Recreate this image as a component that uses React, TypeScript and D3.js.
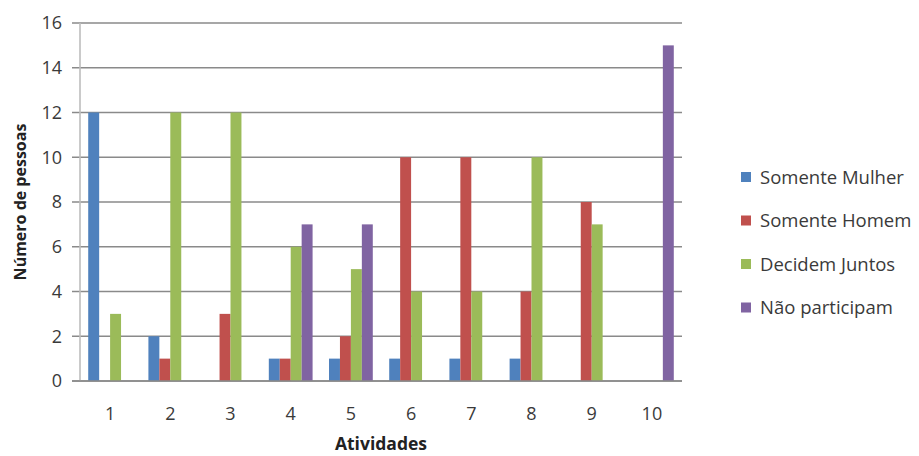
import React from "react";
import * as d3 from "d3";

const categories = ["1", "2", "3", "4", "5", "6", "7", "8", "9", "10"];
const seriesNames = ["Somente Mulher", "Somente Homem", "Decidem Juntos", "Não participam"];
const somenteMulher = [12, 2, 0, 1, 1, 1, 1, 1, 0, 0];
const somenteHomem = [0, 1, 3, 1, 2, 10, 10, 4, 8, 0];
const decidemJuntos = [3, 12, 12, 6, 5, 4, 4, 10, 7, 0];
const naoParticipam = [0, 0, 0, 7, 7, 0, 0, 0, 0, 15];
const yTicks = [0, 2, 4, 6, 8, 10, 12, 14, 16];
const colors = ["#4F81BD", "#C0504D", "#9BBB59", "#8064A2"];

const W = 919;
const H = 456;
const left = 80;
const right = 682;
const top = 23;
const bottom = 381;
const FONT = "'Open Sans', 'Noto Sans', sans-serif";

export default function App() {
  const series = [somenteMulher, somenteHomem, decidemJuntos, naoParticipam];
  const x0 = d3.scaleBand<string>().domain(categories).range([left, right]).paddingInner(0).paddingOuter(0);
  const bw = x0.bandwidth();
  const barW = bw / 5.5;
  const x1 = d3
    .scaleBand<number>()
    .domain([0, 1, 2, 3])
    .range([0.75 * barW, 0.75 * barW + 4 * barW]);
  const y = d3.scaleLinear().domain([0, 16]).range([bottom, top]);

  return (
    <svg width={W} height={H} style={{ position: "absolute", left: 0, top: 0, background: "#fff" }}>
      {yTicks.map((t) => (
        <g key={t}>
          <line x1={left - 8} x2={right} y1={y(t)} y2={y(t)} stroke="#8a8a8a" strokeWidth={1.6} />
          <text x={62} y={y(t)} dy="0.36em" textAnchor="end" fontFamily={FONT} fontSize={18} fill="#3a3a3a">
            {t}
          </text>
        </g>
      ))}
      <line x1={left} x2={left} y1={top} y2={bottom} stroke="#bdbdbd" strokeWidth={1.6} />
      {series.map((vals, si) =>
        vals.map((v, ci) =>
          v > 0 ? (
            <rect
              key={`${si}-${ci}`}
              x={(x0(categories[ci]) as number) + (x1(si) as number)}
              y={y(v)}
              width={x1.bandwidth()}
              height={y(0) - y(v)}
              fill={colors[si]}
            />
          ) : null
        )
      )}
      <line x1={left - 8} x2={right} y1={bottom} y2={bottom} stroke="#8a8a8a" strokeWidth={1.6} />
      {categories.map((c) => (
        <text
          key={c}
          x={(x0(c) as number) + bw / 2}
          y={420}
          textAnchor="middle"
          fontFamily={FONT}
          fontSize={18}
          fill="#3a3a3a"
        >
          {c}
        </text>
      ))}
      <text x={381} y={450} textAnchor="middle" fontFamily={FONT} fontSize={17.5} fontWeight="bold" fill="#222">
        Atividades
      </text>
      <text
        transform={`translate(26, 202) rotate(-90)`}
        textAnchor="middle"
        fontFamily={FONT}
        fontSize={16}
        fontWeight="bold"
        fill="#222"
      >
        Número de pessoas
      </text>
      {seriesNames.map((n, i) => (
        <g key={n} transform={`translate(741, ${177 + i * 43.5})`}>
          <rect x={0} y={-5} width={10} height={10} fill={colors[i]} />
          <text x={19} y={0} dy="0.36em" fontFamily={FONT} fontSize={18.5} fill="#3a3a3a">
            {n}
          </text>
        </g>
      ))}
    </svg>
  );
}
